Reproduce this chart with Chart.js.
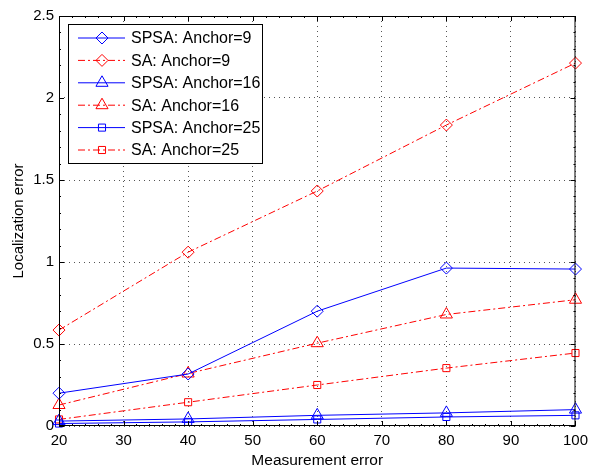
<!DOCTYPE html>
<html>
<head>
<meta charset="utf-8">
<script src="https://cdn.jsdelivr.net/npm/chart.js@4/dist/chart.umd.min.js"></script>
<style>
  html, body { margin: 0; padding: 0; background: #fff; }
  #wrap { width: 594px; height: 470px; }
</style>
</head>
<body>
<div id="wrap"><canvas id="c" width="594" height="470"></canvas></div>
<script>
// data
var measErr = [20, 40, 60, 80, 100];
var spsa9  = [0.20, 0.317, 0.70, 0.963, 0.957];
var sa9    = [0.585, 1.06, 1.433, 1.835, 2.213];
var spsa16 = [0.03, 0.043, 0.065, 0.08, 0.10];
var sa16   = [0.128, 0.32, 0.505, 0.68, 0.77];
var spsa25 = [0.015, 0.025, 0.04, 0.055, 0.065];
var sa25   = [0.04, 0.145, 0.25, 0.353, 0.445];
var seriesNames = ['SPSA: Anchor=9', 'SA: Anchor=9', 'SPSA: Anchor=16', 'SA: Anchor=16', 'SPSA: Anchor=25', 'SA: Anchor=25'];
var yTicks = [0, 0.5, 1, 1.5, 2, 2.5];

var BLUE = '#0000ff', RED = '#ff0000';
var dashDot = [7, 3, 2, 3];
var FONT = '"Liberation Sans", Arial, sans-serif';

function pts(vals) {
  return vals.map(function (v, i) { return { x: measErr[i], y: v }; });
}
function ds(i, vals, color, style, radius) {
  return {
    label: seriesNames[i],
    data: pts(vals),
    borderColor: color,
    backgroundColor: 'rgba(0,0,0,0)',
    borderWidth: 1,
    borderDash: color === RED ? dashDot : [],
    pointStyle: style,
    pointRadius: radius,
    pointBorderColor: color,
    pointBackgroundColor: 'rgba(0,0,0,0)',
    pointBorderWidth: 1,
    clip: false,
    tension: 0
  };
}

var frame = {
  id: 'frame',
  afterDraw: function (chart) {
    var ctx = chart.ctx, a = chart.chartArea;
    var xs = chart.scales.x, ys = chart.scales.y;
    ctx.save();
    ctx.strokeStyle = '#000';
    ctx.lineWidth = 1;
    ctx.setLineDash([]);
    ctx.strokeRect(a.left + 0.5, a.top + 0.5, a.right - a.left - 1, a.bottom - a.top - 1);
    ctx.beginPath();
    var v, px, py;
    for (v = 20; v <= 100; v += 2) {
      px = Math.round(xs.getPixelForValue(v)) + 0.5;
      var len = (v % 10 === 0) ? 5 : 2;
      ctx.moveTo(px, a.bottom); ctx.lineTo(px, a.bottom - len);
      ctx.moveTo(px, a.top); ctx.lineTo(px, a.top + len);
    }
    for (v = 0; v <= 25; v += 1) {
      py = Math.round(ys.getPixelForValue(v / 10)) + 0.5;
      var l2 = (v % 5 === 0) ? 5 : 2;
      ctx.moveTo(a.left, py); ctx.lineTo(a.left + l2, py);
      ctx.moveTo(a.right, py); ctx.lineTo(a.right - l2, py);
    }
    ctx.stroke();

    // legend box
    var lx = 68, ly = 24, lw = 194, lh = 139;
    ctx.fillStyle = '#fff';
    ctx.fillRect(lx, ly, lw, lh);
    ctx.strokeStyle = '#000';
    ctx.strokeRect(lx + 0.5, ly + 0.5, lw, lh);
    ctx.font = '16px ' + FONT;
    ctx.textBaseline = 'middle';
    chart.data.datasets.forEach(function (d, i) {
      var yy = ly + 14 + i * 22.4;
      ctx.strokeStyle = d.borderColor;
      ctx.setLineDash(d.borderDash);
      ctx.beginPath();
      ctx.moveTo(lx + 10, yy); ctx.lineTo(lx + 57, yy);
      ctx.stroke();
      ctx.setLineDash([]);
      ctx.fillStyle = 'rgba(0,0,0,0)';
      ctx.strokeStyle = d.borderColor;
      Chart.helpers.drawPoint(ctx, { pointStyle: d.pointStyle, radius: d.pointRadius, borderWidth: 1, rotation: 0 }, lx + 34, yy);
      ctx.fillStyle = '#000';
      ctx.fillText(d.label, lx + 63, yy + 1);
    });
    ctx.restore();
  }
};

new Chart(document.getElementById('c'), {
  type: 'line',
  data: {
    datasets: [
      ds(0, spsa9, BLUE, 'rectRot', 6),
      ds(1, sa9, RED, 'rectRot', 6),
      ds(2, spsa16, BLUE, 'triangle', 7),
      ds(3, sa16, RED, 'triangle', 7),
      ds(4, spsa25, BLUE, 'rect', 5),
      ds(5, sa25, RED, 'rect', 5)
    ]
  },
  options: {
    responsive: false,
    animation: false,
    layout: { padding: { top: 16, right: 15, left: 0, bottom: 0 } },
    plugins: { legend: { display: false }, tooltip: { enabled: false } },
    elements: { line: { fill: false } },
    scales: {
      x: {
        type: 'linear',
        min: 20, max: 100,
        afterFit: function (s) { s.height = 44; },
        ticks: { stepSize: 10, color: '#000', padding: 6, font: { size: 15, family: FONT } },
        grid: { color: '#555', lineWidth: 1, drawTicks: false, tickLength: 0 },
        border: { display: false, dash: [1, 4] },
        title: { display: true, text: 'Measurement error', color: '#000', padding: { top: 0, bottom: 0 }, font: { size: 15.5, family: FONT } }
      },
      y: {
        type: 'linear',
        min: 0, max: 2.5,
        afterFit: function (s) { s.width = 59; },
        afterBuildTicks: function (s) { s.ticks = yTicks.map(function (v) { return { value: v }; }); },
        ticks: { color: '#000', padding: 5, font: { size: 15, family: FONT }, callback: function (v) { return String(v); } },
        grid: { color: '#555', lineWidth: 1, drawTicks: false, tickLength: 0 },
        border: { display: false, dash: [1, 4] },
        title: { display: true, text: 'Localization error', color: '#000', padding: { top: 10, bottom: 0 }, font: { size: 15, family: FONT } }
      }
    }
  },
  plugins: [frame]
});
</script>
</body>
</html>
